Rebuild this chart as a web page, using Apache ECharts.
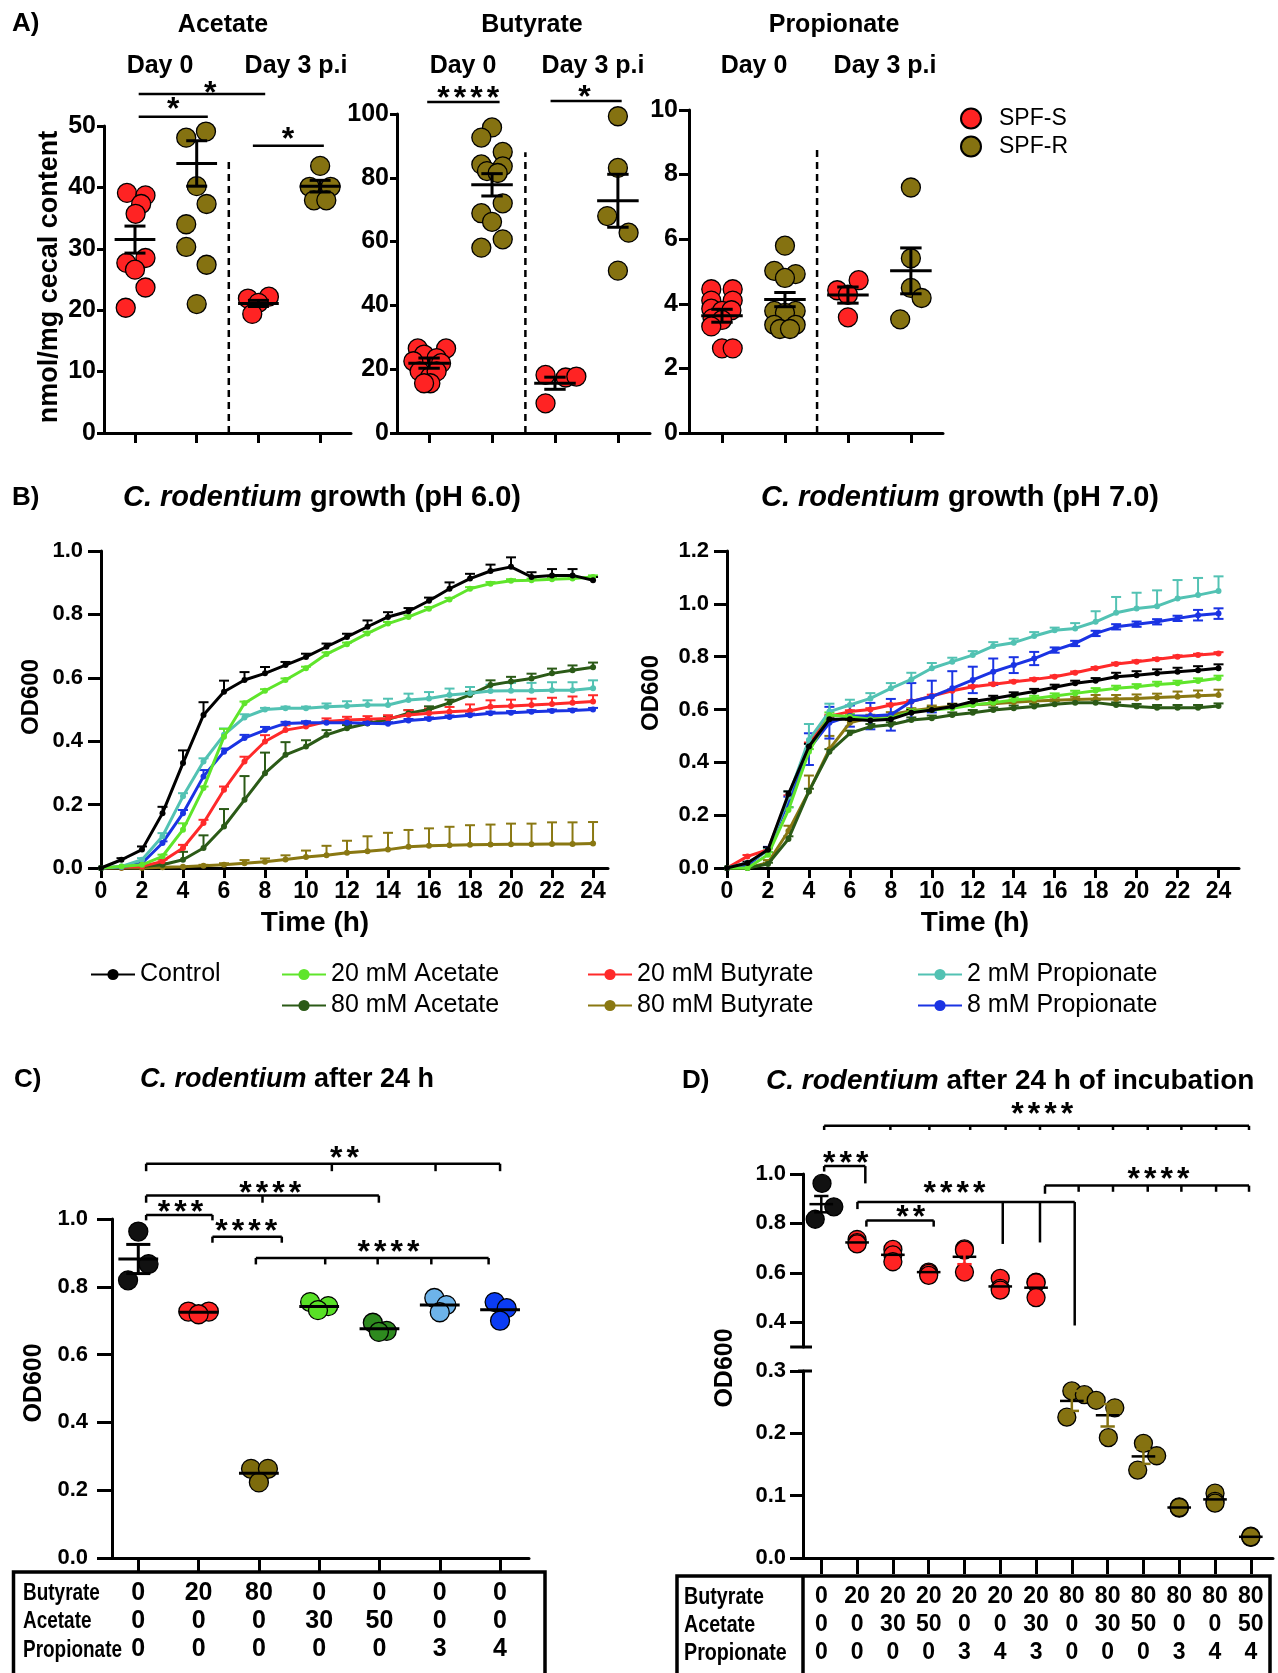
<!DOCTYPE html>
<html><head><meta charset="utf-8">
<script src="https://cdn.jsdelivr.net/npm/echarts@6/dist/echarts.min.js"></script>
<style>html,body{margin:0;padding:0;background:#fff}#c{width:1278px;height:1673px}</style>
</head><body><div id="c"></div>
<script>
// ---------------- Panel A data ([x position, value]) ----------------
const acetS = [[0.87,39.1],[1.17,38.7],[1.10,37.3],[1.01,35.7],[0.86,27.7],[1.17,28.5],[1.0,26.6],[1.17,23.7],[0.85,20.4],
               [2.83,21.9],[3.17,22.2],[3.0,21.2],[2.9,19.4]];
const acetR = [[2.15,49.1],[1.83,48.1],[2.0,40.2],[2.16,37.3],[1.83,34.0],[1.83,30.3],[2.16,27.4],[2.0,21.0],
               [4.0,43.5],[3.83,40.1],[4.17,40.1],[3.9,37.9],[4.1,37.9]];
const acetMean = [[1,31.5,2.2],[2,43.9,3.7],[3,21.1,0.5],[4,40.2,0.95]];
const butS = [[0.82,26.5],[1.27,26.5],[0.92,24.6],[1.12,23.5],[0.75,22.5],[1.19,21.9],[0.85,19.3],[1.02,17.7],[1.12,19.3],[1.02,15.6],[0.92,15.6],
              [2.85,18.2],[3.17,17.4],[3.34,17.7],[2.85,9.3]];
const butR = [[2.0,95.8],[1.83,92.6],[2.17,88.1],[1.83,84.2],[2.17,83.6],[1.92,82.1],[2.09,81.5],[2.17,72.0],[1.83,68.9],[2.0,66.2],[2.17,60.7],[1.83,58.1],
              [4.0,99.3],[4.0,83.1],[3.83,68.0],[4.17,62.8],[4.0,50.9]];
const butMean = [[1,21.9,1.6],[2,77.8,3.5],[3,15.6,1.9],[4,72.8,8.3]];
const proS = [[0.83,4.45],[1.17,4.45],[0.83,4.1],[1.17,4.1],[0.83,3.85],[1.0,3.78],[1.15,3.8],[0.85,3.55],[1.0,3.5],[0.83,3.3],[1.0,2.62],[1.17,2.62],
              [2.83,4.42],[3.17,4.73],[3.0,4.28],[3.0,3.58]];
const proR = [[2.0,5.8],[1.83,5.02],[2.17,4.92],[2.0,4.8],[1.83,3.78],[2.17,3.78],[2.0,3.72],[1.83,3.35],[2.17,3.35],[1.92,3.22],[2.08,3.22],
              [4.0,7.6],[4.0,5.41],[4.0,4.49],[4.17,4.18],[3.83,3.52]];
const proMean = [[1,3.63,0.2],[2,4.13,0.22],[3,4.27,0.25],[4,5.02,0.71]];
// significance: [y, x1, x2, [[tickX, tickBottom],...]] ; stars: [x, y, count]
const sigAcet = [[55.2,1.06,3.11,[]],[51.5,1.06,2.18,[]],[46.8,2.91,4.06,[]]];
const starsAcet = [[2.22,56.3,1],[1.62,53.7,1],[3.48,48.9,1]];
const sigBut = [[103.8,0.97,2.12,[]],[104.1,2.93,4.06,[]]];
const starsBut = [[1.62,106.9,4],[3.47,107.0,1]];
const dividerA = [[2.52,0,2.52,44.3]], dividerB = [[2.53,0,2.53,88]], dividerP = [[2.51,0,2.51,8.8]];
const groupLabelsA = ['Day 0','Day 3 p.i'];

// ---------------- Panel B data ----------------
const hours = [0,1,2,3,4,5,6,7,8,9,10,11,12,13,14,15,16,17,18,19,20,21,22,23,24];
const ctrl6  = [0,0.026,0.058,0.173,0.331,0.483,0.556,0.593,0.614,0.64,0.666,0.698,0.729,0.761,0.792,0.81,0.843,0.881,0.913,0.937,0.95,0.918,0.923,0.923,0.908];
const ace20_6= [0,0.005,0.01,0.037,0.121,0.252,0.414,0.52,0.559,0.593,0.63,0.675,0.706,0.74,0.771,0.792,0.818,0.847,0.881,0.897,0.906,0.908,0.911,0.913,0.918];
const ace80_6= [0,0.003,0.005,0.01,0.026,0.063,0.131,0.215,0.299,0.357,0.383,0.42,0.441,0.456,0.469,0.488,0.5,0.521,0.546,0.577,0.588,0.598,0.614,0.624,0.633];
const but20_6= [0,0.002,0.005,0.021,0.063,0.142,0.247,0.336,0.399,0.435,0.446,0.462,0.467,0.469,0.472,0.483,0.488,0.493,0.496,0.509,0.511,0.514,0.517,0.521,0.525];
const but80_6= [0,0,0,0.002,0.004,0.007,0.01,0.015,0.02,0.027,0.035,0.04,0.048,0.053,0.058,0.067,0.07,0.072,0.073,0.074,0.075,0.075,0.076,0.076,0.077];
const pro2_6 = [0,0.005,0.026,0.10,0.226,0.336,0.42,0.475,0.50,0.504,0.504,0.509,0.511,0.514,0.514,0.53,0.535,0.546,0.551,0.558,0.559,0.559,0.561,0.561,0.567];
const pro8_6 = [0,0.003,0.015,0.079,0.173,0.289,0.367,0.41,0.435,0.456,0.458,0.458,0.458,0.457,0.455,0.465,0.47,0.476,0.482,0.488,0.49,0.493,0.495,0.497,0.50];
const ctrl6E = [0,0.005,0.01,0.02,0.04,0.04,0.035,0.025,0.02,0.01,0.01,0.01,0.01,0.02,0.015,0.01,0.01,0.02,0.015,0.02,0.03,0.015,0.02,0.02,0.01];
const ace20_6E=[0,0,0,0.005,0.02,0.005,0.025,0.005,0.005,0.005,0.005,0.005,0.005,0.005,0.005,0.005,0.005,0.005,0.005,0.005,0.005,0.005,0.005,0.005,0.005];
const ace80_6E=[0,0,0,0.005,0.025,0.04,0.055,0.075,0.065,0.04,0.02,0.015,0.01,0.01,0.01,0.01,0.01,0.01,0.01,0.015,0.015,0.015,0.015,0.015,0.015];
const but20_6E=[0,0,0,0.005,0.01,0.01,0.01,0.015,0.02,0.015,0.01,0.01,0.01,0.01,0.01,0.015,0.015,0.015,0.02,0.02,0.02,0.02,0.02,0.02,0.02];
const but80_6E=[0,0,0,0,0,0.003,0.005,0.01,0.01,0.013,0.02,0.03,0.038,0.047,0.053,0.053,0.055,0.058,0.062,0.063,0.065,0.065,0.068,0.068,0.068];
const pro2_6E= [0,0,0.005,0.01,0.01,0.01,0.02,0.01,0.005,0.005,0.005,0.01,0.015,0.015,0.02,0.02,0.02,0.02,0.02,0.02,0.025,0.025,0.025,0.025,0.025];
const pro8_6E= [0,0,0,0.005,0.01,0.02,0.01,0.01,0.01,0.005,0.005,0.005,0.005,0.005,0.005,0.005,0.005,0.005,0.005,0.005,0.005,0.005,0.005,0.005,0.005];

const ctrl7  = [0,0.019,0.069,0.28,0.46,0.563,0.563,0.558,0.563,0.588,0.598,0.611,0.63,0.642,0.655,0.668,0.684,0.699,0.709,0.724,0.73,0.737,0.743,0.749,0.756];
const ace20_7= [0,0,0.05,0.22,0.44,0.579,0.573,0.563,0.567,0.592,0.598,0.605,0.617,0.626,0.636,0.642,0.651,0.661,0.671,0.68,0.686,0.695,0.699,0.708,0.718];
const ace80_7= [0,0,0.015,0.11,0.29,0.44,0.51,0.535,0.542,0.56,0.567,0.579,0.588,0.598,0.605,0.611,0.62,0.626,0.626,0.617,0.611,0.607,0.607,0.607,0.613];
const but20_7= [0,0.044,0.069,0.27,0.47,0.575,0.592,0.60,0.617,0.63,0.651,0.671,0.686,0.696,0.705,0.714,0.724,0.739,0.756,0.772,0.781,0.79,0.80,0.806,0.812];
const but80_7= [0,0,0.02,0.14,0.29,0.45,0.55,0.57,0.58,0.595,0.605,0.612,0.618,0.622,0.627,0.632,0.635,0.638,0.64,0.64,0.642,0.645,0.648,0.652,0.655];
const pro2_7 = [0,0.02,0.065,0.27,0.485,0.592,0.617,0.642,0.68,0.714,0.756,0.781,0.806,0.84,0.853,0.878,0.90,0.907,0.932,0.966,0.982,0.991,1.02,1.033,1.049];
const pro8_7 = [0,0.01,0.07,0.25,0.45,0.55,0.575,0.575,0.58,0.63,0.649,0.68,0.712,0.743,0.768,0.793,0.825,0.85,0.888,0.913,0.923,0.932,0.945,0.957,0.963];
const ctrl7E = [0,0.005,0.01,0.01,0.01,0.01,0.01,0.01,0.01,0.01,0.01,0.01,0.01,0.01,0.01,0.01,0.01,0.01,0.01,0.015,0.015,0.015,0.015,0.015,0.015];
const ace20_7E=[0,0,0.01,0.01,0.01,0.01,0.01,0.01,0.01,0.01,0.01,0.01,0.01,0.01,0.01,0.01,0.01,0.01,0.01,0.01,0.01,0.01,0.01,0.01,0.01];
const ace80_7E=[0,0,0.005,0.01,0.01,0.01,0.01,0.01,0.01,0.01,0.01,0.01,0.01,0.01,0.01,0.01,0.01,0.01,0.01,0.01,0.01,0.01,0.01,0.01,0.01];
const but20_7E=[0,0.005,0.005,0.005,0.005,0.005,0.005,0.005,0.005,0.005,0.005,0.005,0.005,0.005,0.005,0.005,0.005,0.005,0.005,0.005,0.005,0.005,0.005,0.005,0.005];
const but80_7E=[0,0,0.01,0.02,0.06,0.05,0.01,0.01,0.01,0.01,0.01,0.01,0.01,0.01,0.01,0.01,0.01,0.01,0.015,0.015,0.015,0.015,0.02,0.02,0.02];
const pro2_7E= [0,0,0.01,0.02,0.06,0.03,0.02,0.02,0.02,0.025,0.02,0.015,0.015,0.015,0.015,0.015,0.01,0.02,0.04,0.06,0.06,0.06,0.07,0.065,0.055];
const pro8_7E= [0,0,0.01,0.02,0.06,0.06,0.04,0.05,0.06,0.07,0.06,0.065,0.05,0.05,0.03,0.025,0.01,0.01,0.01,0.01,0.01,0.01,0.01,0.02,0.02];
const conditionNames = ['Control','20 mM Acetate','80 mM Acetate','20 mM Butyrate','80 mM Butyrate','2 mM Propionate','8 mM Propionate'];

// ---------------- Panel C data ----------------
const butC = [0,20,80,0,0,0,0];
const aceC = [0,0,0,30,50,0,0];
const proC = [0,0,0,0,0,3,4];
const ptsC = [
  [[0.0,0.963],[0.17,0.867],[-0.17,0.819]],
  [[0.83,0.727],[1.17,0.727],[1.0,0.719]],
  [[1.87,0.263],[2.15,0.263],[2.0,0.223]],
  [[2.85,0.755],[3.15,0.743],[2.98,0.731]],
  [[3.89,0.694],[4.12,0.670],[3.99,0.667]],
  [[4.91,0.767],[5.11,0.746],[5.0,0.725]],
  [[5.91,0.755],[6.11,0.737],[6.0,0.70]]
];
const meanC = [[0,0.882,0.043],[1,0.725,0],[2,0.25,0],[3,0.742,0],[4,0.676,0],[5,0.746,0],[6,0.732,0]];
const sigC = [
  [1.163,0.13,6.0,[[0.13,1.141],[3.21,1.141],[4.93,1.141],[6.0,1.141]]],
  [1.069,0.13,3.99,[[0.13,1.048],[2.06,1.048],[3.99,1.048]]],
  [1.012,0.13,1.23,[[0.13,0.996],[1.23,0.996]]],
  [0.948,1.23,2.38,[[1.23,0.93],[2.38,0.93]]],
  [0.885,1.95,5.81,[[1.95,0.866],[3.10,0.866],[3.97,0.866],[4.86,0.866],[5.81,0.866]]]
];
const starsC = [[3.42,1.196,2],[2.19,1.095,4],[0.70,1.039,3],[1.79,0.981,4],[4.15,0.921,4]];

// ---------------- Panel D data ----------------
const butD = [0,20,20,20,20,20,20,80,80,80,80,80,80];
const aceD = [0,0,30,50,0,0,30,0,30,50,0,0,50];
const proD = [0,0,0,0,3,4,3,0,0,0,3,4,4];
const ctrlD = [[0.02,0.962],[0.35,0.867],[-0.17,0.817]];
const redD = [[1.0,0.735],[1.0,0.722],[1.0,0.717],[2.0,0.695],[2.0,0.673],[2.0,0.645],[3.0,0.603],[3.0,0.598],[3.0,0.59],
              [4.0,0.697],[4.0,0.692],[4.0,0.603],[5.0,0.578],[5.0,0.537],[5.0,0.53],[6.0,0.562],[6.0,0.56],[6.0,0.50]];
const oliveD = [[6.86,0.226],[7.0,0.268],[7.35,0.262],[7.68,0.253],[8.2,0.241],[8.02,0.193],[9.0,0.184],[9.37,0.164],[8.84,0.141],
                [10.0,0.082],[10.0,0.080],[10.0,0.081],[11.0,0.104],[11.0,0.091],[11.0,0.088],[12.0,0.035],[12.0,0.033],[12.0,0.034]];
const meanDctrl = [[0,0.878,0.033]];
const meanDred = [[1,0.723,0],[2,0.673,0],[3,0.603,0],[4,0.665,0.03],[5,0.545,0],[6,0.54,0]];
const meanDolive = [[7,0.252,0.016],[8,0.229,0.018],[9,0.163,0.012],[10,0.081,0],[11,0.094,0],[12,0.034,0]];
const sigD = [
  [1.195,0.08,11.95,[[0.08,1.178],[1.93,1.178],[3.02,1.178],[4.16,1.178],[5.15,1.178],[6.11,1.178],[7.19,1.178],[8.15,1.178],[9.12,1.178],[10.06,1.178],[11.03,1.178],[11.95,1.178]]],
  [1.032,0.08,1.23,[[0.08,1.01],[1.23,0.962]]],
  [0.887,1.01,7.08,[[1.01,0.858],[5.07,0.717],[6.11,0.723],[7.08,0.387]]],
  [0.812,1.26,3.14,[[1.26,0.787],[3.14,0.787]]],
  [0.953,6.25,11.95,[[6.25,0.92],[7.19,0.928],[8.15,0.928],[9.12,0.928],[10.06,0.928],[11.03,0.928],[11.95,0.928]]]
];
const starsD = [[6.17,1.265,4],[0.68,1.07,3],[3.72,0.945,4],[2.5,0.848,2],[9.42,1.003,4]];
const breakUpper = [[-0.87,0.3,-0.26,0.3]];
const breakLower = [[-0.65,0.3,-0.26,0.3]];
const tableRows = ['Butyrate','Acetate','Propionate'];

// ---------------- styles / helpers ----------------
const FONT = "'Liberation Sans', Arial, Helvetica, sans-serif";
const RED = '#ff2323', OLIVE = '#857211';
const COL = {'Control':'#000000','20 mM Acetate':'#5fe52b','80 mM Acetate':'#2b5a17','20 mM Butyrate':'#ff2a2a',
             '80 mM Butyrate':'#8a7812','2 mM Propionate':'#52c2b3','8 mM Propionate':'#1a33e3'};
const C_COLORS = ['#111111', RED, '#7d6b0c', '#58e026', '#2e8a1f', '#6db3ea', '#0b3cf3'];

function segs(br){ const o=[]; br.forEach(b=>{ o.push([b[1],b[0],b[2],b[0]]); b[3].forEach(t=>o.push([t[0],b[0],t[0],t[1]])); }); return o; }
function segRender(color, lw, dash){
  return function(params, api){
    const p1 = api.coord([api.value(0), api.value(1)]), p2 = api.coord([api.value(2), api.value(3)]);
    return {type:'line', shape:{x1:p1[0],y1:p1[1],x2:p2[0],y2:p2[1]}, style:{stroke:color, lineWidth:lw, lineDash:dash||null, lineCap:'butt'}};
  };
}
function starRender(params, api){
  const n = api.value(2), p = api.coord([api.value(0), api.value(1)]);
  const ch = [];
  for (let i=0;i<n;i++) ch.push({type:'text', style:{text:'*', x:p[0]+(i-(n-1)/2)*16.5, y:p[1]+7, fontSize:32, fontWeight:'bold', fontFamily:FONT, fill:'#000', align:'center', verticalAlign:'middle'}});
  return {type:'group', children:ch};
}
function meanRender(halfW, capW, lw, color, semColor){
  return function(params, api){
    const x=api.value(0), m=api.value(1), s=api.value(2);
    const L=api.coord([x-halfW,m]), R=api.coord([x+halfW,m]);
    const ch=[{type:'line', shape:{x1:L[0],y1:L[1],x2:R[0],y2:R[1]}, style:{stroke:color,lineWidth:lw}}];
    if (s>0){
      const T=api.coord([x,m+s]), B=api.coord([x,m-s]), cl=api.coord([x-capW,m]), cr=api.coord([x+capW,m]);
      ch.push({type:'line', shape:{x1:T[0],y1:T[1],x2:B[0],y2:B[1]}, style:{stroke:semColor,lineWidth:lw}});
      ch.push({type:'line', shape:{x1:cl[0],y1:T[1],x2:cr[0],y2:T[1]}, style:{stroke:semColor,lineWidth:lw}});
      ch.push({type:'line', shape:{x1:cl[0],y1:B[1],x2:cr[0],y2:B[1]}, style:{stroke:semColor,lineWidth:lw}});
    }
    return {type:'group', children:ch};
  };
}
function errRender(color){
  return function(params, api){
    const x=api.value(0), y=api.value(1), up=api.value(2), dn=api.value(3);
    const p=api.coord([x,y]); const ch=[]; const cap=5;
    if (up>0){ const t=api.coord([x,y+up]); ch.push({type:'line',shape:{x1:p[0],y1:p[1],x2:p[0],y2:t[1]},style:{stroke:color,lineWidth:2}}); ch.push({type:'line',shape:{x1:p[0]-cap,y1:t[1],x2:p[0]+cap,y2:t[1]},style:{stroke:color,lineWidth:2}}); }
    if (dn>0){ const b=api.coord([x,y-dn]); ch.push({type:'line',shape:{x1:p[0],y1:p[1],x2:p[0],y2:b[1]},style:{stroke:color,lineWidth:2}}); ch.push({type:'line',shape:{x1:p[0]-cap,y1:b[1],x2:p[0]+cap,y2:b[1]},style:{stroke:color,lineWidth:2}}); }
    return {type:'group', children:ch};
  };
}
function custom(gi, data, renderItem, z){ return {type:'custom', xAxisIndex:gi, yAxisIndex:gi, data, renderItem, clip:false, z:z||5, silent:true, animation:false}; }
function scatter(name, gi, data, color, size){
  return {type:'scatter', name, xAxisIndex:gi, yAxisIndex:gi, data, symbol:'circle', symbolSize:size, clip:false,
    itemStyle:{color, borderColor:'#000', borderWidth:1.3, opacity:1}, z:3, animation:false};
}
const AX = {color:'#000', width:3};
const lbl = (size, margin, fmt) => ({color:'#000', fontSize:size, fontWeight:'bold', fontFamily:FONT, margin, formatter:fmt});
function xAxis(gi, min, max, ticks, tickLen, label, hidden){
  return {type:'value', gridIndex:gi, min, max,
    axisLine:{show:!hidden, onZero:false, lineStyle:AX},
    axisTick:{show:!hidden, customValues:ticks, length:tickLen, lineStyle:AX},
    axisLabel: label ? Object.assign({show:true, customValues:ticks}, label) : {show:false},
    splitLine:{show:false}};
}
function yAxis(gi, min, max, interval, tickLen, label, ticksCustom){
  const tick = {show:true, length:tickLen, lineStyle:AX};
  if (ticksCustom) { tick.customValues = ticksCustom; label.customValues = ticksCustom; }
  return {type:'value', gridIndex:gi, min, max, interval,
    axisLine:{show:true, onZero:false, lineStyle:AX}, axisTick:tick, axisLabel:label, splitLine:{show:false}};
}
const f1 = v => v.toFixed(1), f0 = v => String(Math.round(v));

// ---------------- grids ----------------
const grids = [
  {left:104, top:126, width:247, height:307},  // 0 A acetate
  {left:397, top:114, width:253, height:319},  // 1 A butyrate
  {left:689, top:110, width:254, height:323},  // 2 A propionate
  {left:101, top:551, width:507, height:317},  // 3 B pH6
  {left:727, top:551, width:512, height:317},  // 4 B pH7
  {left:112, top:1219, width:417, height:339}, // 5 C
  {left:803, top:1371, width:470, height:187}, // 6 D lower
  {left:803, top:1174, width:470, height:173}  // 7 D upper
].map(g => Object.assign({containLabel:false, outerBoundsMode:'none'}, g));

const tblLbl = (b,a,p,size,margin) => ({color:'#000', fontSize:size, fontWeight:'bold', fontFamily:FONT, lineHeight:28, margin,
  formatter: v => { const i=Math.round(v); return b[i]+'\n'+a[i]+'\n'+p[i]; }});
const hTicks = [0,2,4,6,8,10,12,14,16,18,20,22,24];

const xAxes = [
  xAxis(0, 0.498, 4.50, [1,2,3,4], 10),
  xAxis(1, 0.49, 4.51, [1,2,3,4], 10),
  xAxis(2, 0.476, 4.51, [1,2,3,4], 10),
  xAxis(3, 0, 24.73, hTicks, 10, lbl(23,12,f0)),
  xAxis(4, 0, 25.0, hTicks, 10, lbl(23,12,f0)),
  xAxis(5, -0.436, 6.48, [0,1,2,3,4,5,6], 14, tblLbl(butC,aceC,proC,25,21)),
  xAxis(6, -0.511, 12.62, [0,1,2,3,4,5,6,7,8,9,10,11,12], 16, tblLbl(butD,aceD,proD,23,25)),
  xAxis(7, -0.511, 12.62, [], 0, null, true)
];
const yAxes = [
  yAxis(0, 0, 50, 10, 7, lbl(25,8,f0)),
  yAxis(1, 0, 100, 20, 7, lbl(25,8,f0)),
  yAxis(2, 0, 10, 2, 10, lbl(25,11,f0)),
  yAxis(3, 0, 1.0, 0.2, 13, lbl(22,18,f1)),
  yAxis(4, 0, 1.2, 0.2, 13, lbl(22,18,f1)),
  yAxis(5, 0, 1.0, 0.2, 15, lbl(22,24,f1)),
  yAxis(6, 0, 0.3, 0.1, 13, lbl(22,17,f1)),
  yAxis(7, 0.3, 1.0, 0.1, 13, lbl(22,17,f1), [0.4,0.6,0.8,1.0])
];

// ---------------- series ----------------
const series = [];
// Panel A
[[0,acetS,acetR,acetMean,sigAcet,starsAcet,dividerA],[1,butS,butR,butMean,sigBut,starsBut,dividerB],[2,proS,proR,proMean,[],[],dividerP]].forEach(p=>{
  const gi=p[0];
  series.push(custom(gi, p[6], segRender('#000',2.5,[7,5]), 2));
  series.push(scatter('SPF-S', gi, p[1], RED, 19));
  series.push(scatter('SPF-R', gi, p[2], OLIVE, 19));
  series.push(custom(gi, p[3], meanRender(0.33,0.17,3,'#000','#000'), 6));
  if (p[4].length) series.push(custom(gi, segs(p[4]), segRender('#000',2.5), 6));
  if (p[5].length) series.push(custom(gi, p[5], starRender, 7));
});
// Panel B
const B6 = [[ctrl6,ctrl6E],[ace20_6,ace20_6E],[ace80_6,ace80_6E],[but20_6,but20_6E],[but80_6,but80_6E],[pro2_6,pro2_6E],[pro8_6,pro8_6E]];
const B7 = [[ctrl7,ctrl7E],[ace20_7,ace20_7E],[ace80_7,ace80_7E],[but20_7,but20_7E],[but80_7,but80_7E],[pro2_7,pro2_7E],[pro8_7,pro8_7E]];
const drawOrder = [4,2,3,6,5,1,0];
[[3,B6],[4,B7]].forEach(([gi,set])=>{
  drawOrder.forEach((k,ord)=>{
    const name=conditionNames[k], color=COL[name], vals=set[k][0], errs=set[k][1];
    const twoSided = (gi===4 && k===6);
    series.push(custom(gi, hours.map((h,i)=>[h, vals[i], errs[i], twoSided?errs[i]:0]), errRender(color), 2+ord*0.1));
    series.push({type:'line', name, xAxisIndex:gi, yAxisIndex:gi, data:hours.map((h,i)=>[h, vals[i]]),
      symbol:'circle', symbolSize:6, showSymbol:true, lineStyle:{width:3, color}, itemStyle:{color}, z:3+ord*0.1, animation:false, clip:false});
  });
});
// Panel C
ptsC.forEach((d,i)=> series.push(scatter('C'+i, 5, d, C_COLORS[i], 19)));
series.push(custom(5, meanC, meanRender(0.33,0.2,3,'#000','#000'), 6));
series.push(custom(5, segs(sigC), segRender('#000',2.5), 6));
series.push(custom(5, starsC, starRender, 7));
// Panel D
series.push(scatter('Dctrl', 7, ctrlD, '#111111', 18));
series.push(scatter('Dred', 7, redD, RED, 18));
series.push(scatter('Dolive', 6, oliveD, OLIVE, 18));
series.push(custom(7, meanDctrl, meanRender(0.33,0.2,2.5,'#000','#000'), 6));
series.push(custom(7, meanDred, meanRender(0.33,0.2,2.5,'#000',RED), 6));
series.push(custom(6, meanDolive, meanRender(0.33,0.2,2.5,'#000',OLIVE), 6));
series.push(custom(7, segs(sigD), segRender('#000',2.5), 6));
series.push(custom(7, starsD, starRender, 7));
series.push(custom(7, breakUpper, segRender('#000',3), 6));
series.push(custom(6, breakLower, segRender('#000',3), 6));

// ---------------- text / decorations ----------------
function txt(x,y,text,size,o){ o=o||{}; return {type:'text', x, y, rotation:o.rot||0, scaleX:o.sx||1, z:10,
  style:{text, fontSize:size, fontWeight:o.weight||'bold', fontFamily:FONT, fill:'#000', align:o.align||'center', verticalAlign:'middle'}}; }
function rich(x,y,italic,rest,size,align){ return {type:'text', x, y, z:10, style:{text:'{i|'+italic+'}{b|'+rest+'}', align:align||'left', verticalAlign:'middle',
  rich:{i:{fontSize:size,fontWeight:'bold',fontStyle:'italic',fontFamily:FONT,fill:'#000'}, b:{fontSize:size,fontWeight:'bold',fontFamily:FONT,fill:'#000'}}}}; }
const R90 = Math.PI/2;
const graphics = [
  txt(12,24,'A)',26,{align:'left'}), txt(12,498,'B)',26,{align:'left'}), txt(14,1080,'C)',26,{align:'left'}), txt(682,1081,'D)',26,{align:'left'}),
  txt(223,25,'Acetate',25), txt(532,25,'Butyrate',25), txt(834,25,'Propionate',25),
  txt(160,66,groupLabelsA[0],25), txt(296,66,groupLabelsA[1],25),
  txt(463,66,groupLabelsA[0],25), txt(593,66,groupLabelsA[1],25),
  txt(754,66,groupLabelsA[0],25), txt(885,66,groupLabelsA[1],25),
  txt(50,277,'nmol/mg cecal content',27,{rot:R90}),
  rich(123,498,'C. rodentium',' growth (pH 6.0)',29,'left'), rich(761,498,'C. rodentium',' growth (pH 7.0)',29,'left'),
  txt(31,697,'OD600',24,{rot:R90}), txt(651,693,'OD600',24,{rot:R90}),
  txt(315,923,'Time (h)',28), txt(975,923,'Time (h)',28),
  rich(140,1080,'C. rodentium',' after 24 h',27,'left'), rich(766,1081,'C. rodentium',' after 24 h of incubation',28,'left'),
  txt(34,1383,'OD600',25,{rot:R90}), txt(725,1368,'OD600',25,{rot:R90}),
  {type:'polyline', z:10, shape:{points:[[13.5,1676],[13.5,1572],[545,1572],[545,1676]]}, style:{stroke:'#000', lineWidth:3.5, fill:null}},
  {type:'polyline', z:10, shape:{points:[[677,1676],[677,1576],[1270,1576],[1270,1676]]}, style:{stroke:'#000', lineWidth:3.5, fill:null}},
  {type:'line', z:10, shape:{x1:803,y1:1576,x2:803,y2:1676}, style:{stroke:'#000', lineWidth:3.5}}
];
tableRows.forEach((r,i)=>{
  graphics.push(txt(23,[1593,1621,1650][i],r,24,{align:'left', sx:0.79}));
  graphics.push(txt(684,[1597,1625,1653][i],r,24,{align:'left', sx:0.82}));
});

const legB = (names,left) => ({data:names, orient:'vertical', left, top:962, padding:0, itemGap:6, itemWidth:44, itemHeight:14,
  selectedMode:false, textStyle:{fontSize:25, fontFamily:FONT, color:'#000', lineHeight:25}});

const option = {
  animation:false, backgroundColor:'#fff',
  textStyle:{fontFamily:FONT},
  grid:grids, xAxis:xAxes, yAxis:yAxes, series,
  legend:[
    {data:['SPF-S','SPF-R'], orient:'vertical', left:960, top:107, padding:0, itemGap:5, itemWidth:20, itemHeight:20, icon:'circle',
     selectedMode:false, textStyle:{fontSize:23, fontFamily:FONT, color:'#000', lineHeight:20, padding:[0,0,0,13]}},
    legB(['Control'],90), legB(['20 mM Acetate','80 mM Acetate'],281), legB(['20 mM Butyrate','80 mM Butyrate'],587), legB(['2 mM Propionate','8 mM Propionate'],917)
  ],
  graphic:{elements:graphics}
};
const chart = echarts.init(document.getElementById('c'), null, {renderer:'canvas', width:1278, height:1673});
chart.setOption(option);
</script></body></html>
